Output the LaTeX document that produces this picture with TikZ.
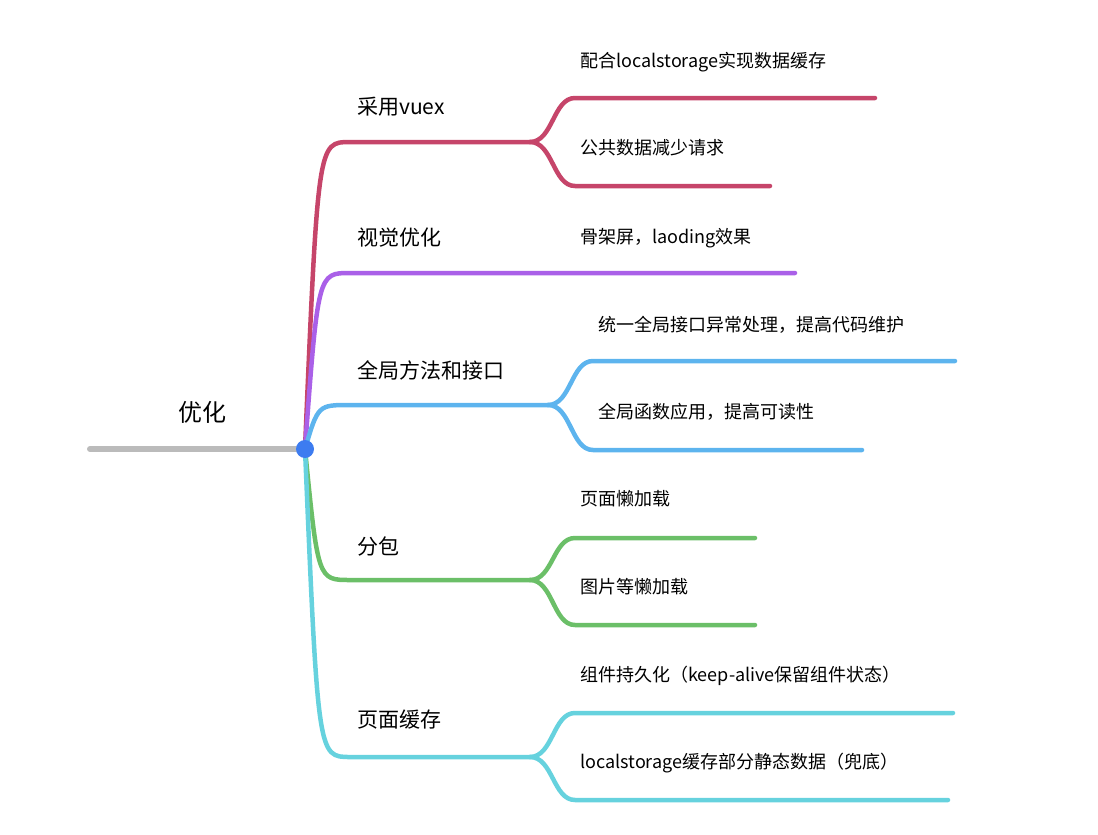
\documentclass[tikz,border=0pt]{standalone}
\usepackage{fontspec}
\setmainfont{Noto Sans CJK SC}
\definecolor{cRed}{HTML}{C6456A}
\definecolor{cPurple}{HTML}{AA60E8}
\definecolor{cBlue}{HTML}{5DB4EE}
\definecolor{cGreen}{HTML}{6BBF68}
\definecolor{cCyan}{HTML}{66D2DE}
\definecolor{cGray}{HTML}{BBBBBB}
\definecolor{cDot}{HTML}{3D7CF0}
\tikzset{
  branch/.style = {line width=4.5pt, line cap=round},
  topic/.style = {anchor=west, inner sep=0pt, font=\fontsize{21}{24}\selectfont},
  leaf/.style = {anchor=west, inner sep=0pt, font=\fontsize{18}{21}\selectfont}
}
\begin{document}
\begin{tikzpicture}[x=1pt, y=-1pt]

	\useasboundingbox (0, 0) rectangle (1098, 835);

	% Root

	\coordinate (root) at (305, 449);
	\coordinate (tail) at (90, 449);
	\draw [branch, cGray, line width=6pt] (tail) -- (root);
	\node [inner sep=0pt, font=\fontsize{24}{26}\selectfont] (rootlabel) at (202, 412) {优化};

	% Branch: vuex

	\coordinate (vuex) at (350, 142);
	\coordinate (vuexend) at (530, 142);
	\coordinate (vuexa) at (575, 98);
	\coordinate (vuexaend) at (875, 98);
	\coordinate (vuexb) at (575, 186);
	\coordinate (vuexbend) at (770, 186);
	\begin{scope}[branch, cRed]
		\draw (root) .. controls (318, 142) .. (vuex) -- (vuexend);
		\draw (vuexend) .. controls (553, 142) and (553, 98) .. (vuexa) -- (vuexaend);
		\draw (vuexend) .. controls (553, 142) and (553, 186) .. (vuexb) -- (vuexbend);
	\end{scope}
	\node [topic] (vuexlabel) at (357, 107) {采用vuex};
	\node [leaf] (vuexalabel) at (580, 62) {配合localstorage实现数据缓存};
	\node [leaf] (vuexblabel) at (580, 148) {公共数据减少请求};

	% Branch: visual

	\coordinate (visual) at (350, 273);
	\coordinate (visualend) at (795, 273);
	\draw [branch, cPurple] (root) .. controls (318, 273) .. (visual) -- (visualend);
	\node [topic] (visuallabel) at (357, 238) {视觉优化};
	\node [leaf] (visualalabel) at (580, 238) {骨架屏，laoding效果};

	% Branch: global

	\coordinate (global) at (350, 405);
	\coordinate (globalend) at (548, 405);
	\coordinate (globala) at (593, 361);
	\coordinate (globalaend) at (955, 361);
	\coordinate (globalb) at (593, 450);
	\coordinate (globalbend) at (862, 450);
	\begin{scope}[branch, cBlue]
		\draw (root) .. controls (318, 405) .. (global) -- (globalend);
		\draw (globalend) .. controls (571, 405) and (571, 361) .. (globala) -- (globalaend);
		\draw (globalend) .. controls (571, 405) and (571, 450) .. (globalb) -- (globalbend);
	\end{scope}
	\node [topic] (globallabel) at (357, 370) {全局方法和接口};
	\node [leaf] (globalalabel) at (598, 325) {统一全局接口异常处理，提高代码维护};
	\node [leaf] (globalblabel) at (598, 412) {全局函数应用，提高可读性};

	% Branch: split

	\coordinate (split) at (350, 580);
	\coordinate (splitend) at (530, 580);
	\coordinate (splita) at (575, 538);
	\coordinate (splitaend) at (755, 538);
	\coordinate (splitb) at (575, 625);
	\coordinate (splitbend) at (755, 625);
	\begin{scope}[branch, cGreen]
		\draw (root) .. controls (318, 580) .. (split) -- (splitend);
		\draw (splitend) .. controls (553, 580) and (553, 538) .. (splita) -- (splitaend);
		\draw (splitend) .. controls (553, 580) and (553, 625) .. (splitb) -- (splitbend);
	\end{scope}
	\node [topic] (splitlabel) at (357, 546) {分包};
	\node [leaf] (splitalabel) at (580, 499) {页面懒加载};
	\node [leaf] (splitblabel) at (580, 587) {图片等懒加载};

	% Branch: cache

	\coordinate (cache) at (350, 757);
	\coordinate (cacheend) at (530, 757);
	\coordinate (cachea) at (575, 713);
	\coordinate (cacheaend) at (953, 713);
	\coordinate (cacheb) at (575, 800);
	\coordinate (cachebend) at (948, 800);
	\begin{scope}[branch, cCyan]
		\draw (root) .. controls (318, 757) .. (cache) -- (cacheend);
		\draw (cacheend) .. controls (553, 757) and (553, 713) .. (cachea) -- (cacheaend);
		\draw (cacheend) .. controls (553, 757) and (553, 800) .. (cacheb) -- (cachebend);
	\end{scope}
	\node [topic] (cachelabel) at (357, 720) {页面缓存};
	\node [leaf] (cachealabel) at (580, 676) {组件持久化（keep-alive保留组件状态）};
	\node [leaf] (cacheblabel) at (580, 763) {localstorage缓存部分静态数据（兜底）};

	% Center dot

	\fill [cDot] (root) circle (9);

\end{tikzpicture}
\end{document}
